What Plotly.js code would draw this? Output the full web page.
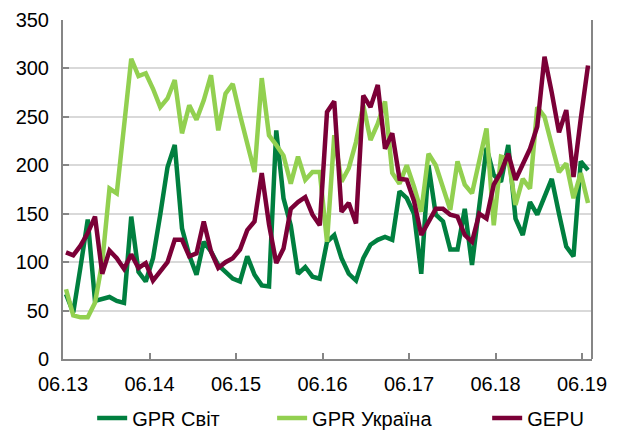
<!DOCTYPE html>
<html>
<head>
<meta charset="utf-8">
<script src="https://cdn.plot.ly/plotly-3.0.1.min.js"></script>
<style>html,body{margin:0;padding:0;background:#fff;}#chart{width:627px;height:434px;}</style>
</head>
<body>
<div id="chart"></div>
<script>
// Monthly observations, June 2013 .. June 2019
const gprWorld = [67,48,95,144,60,62,64,60,58,147,90,80,104,149,198,221,135,107,87,121,111,97,90,83,80,106,87,76,75,236,166,138,88,95,85,83,121,128,104,88,81,104,118,123,126,123,173,166,150,88,200,149,142,113,113,155,97,160,218,190,183,221,145,128,162,149,169,186,150,116,106,204,195];
const gprUkraine = [72,45,43,43,58,100,176,171,240,310,292,295,279,260,269,288,233,262,247,267,293,236,274,284,252,221,193,290,231,221,210,181,209,185,193,193,121,231,183,197,224,262,226,243,266,192,181,200,178,152,212,200,176,154,204,180,171,207,238,138,209,207,159,186,176,260,250,221,193,202,166,192,161];
const gepu = [110,107,117,130,147,88,112,104,93,108,94,99,81,90,100,123,123,106,109,142,111,94,100,104,113,133,142,192,139,99,114,155,162,167,149,138,255,266,152,161,140,272,260,283,217,233,186,185,163,128,142,155,155,149,147,128,121,150,145,180,193,212,185,200,217,240,312,275,234,257,188,248,303];
const tickLabels = ['06.13','06.14','06.15','06.16','06.17','06.18','06.19'];
const seriesNames = ['GPR Світ','GPR Україна','GEPU'];
const seriesColors = ['#007F3F','#92D050','#7B0037'];

const idx = gprWorld.map((_, i) => i);
const font = 'Liberation Sans, Arial, sans-serif';
const legendIds = ['legend', 'legend2', 'legend3'];
const legendX = [0.147, 0.434, 0.777];
const traces = [gprWorld, gprUkraine, gepu].map((ys, k) => ({
  x: idx, y: ys, type: 'scatter', mode: 'lines', name: seriesNames[k],
  legend: legendIds[k],
  line: {color: seriesColors[k], width: 4.5, shape: 'linear'}
}));

const tickStep = 11.93, tickStart = -0.41;
const layout = {
  width: 627, height: 434,
  margin: {l: 63, r: 35, t: 20, b: 75},
  paper_bgcolor: '#fff', plot_bgcolor: '#fff',
  font: {family: font, size: 20, color: '#000'},
  showlegend: true,
  xaxis: {
    range: [-0.414, 72.55], showgrid: false, zeroline: false, automargin: false,
    showline: true, linecolor: '#868686', linewidth: 2,
    tickmode: 'array', tickvals: tickLabels.map((_, k) => tickStart + tickStep * k), ticktext: tickLabels,
    ticks: 'inside', ticklen: 6, tickwidth: 2, tickcolor: '#868686', ticklabelstandoff: 6,
    tickfont: {family: font, size: 20, color: '#000'}
  },
  yaxis: {
    range: [0, 350], dtick: 50, tick0: 0, showgrid: true, gridcolor: '#D9D9D9', gridwidth: 2,
    zeroline: false, showline: true, linecolor: '#868686', linewidth: 2, automargin: false,
    ticks: 'inside', ticklen: 6, tickwidth: 2, tickcolor: '#868686', ticklabelstandoff: 8,
    tickfont: {family: font, size: 20, color: '#000'}
  },
  shapes: [{type: 'line', xref: 'paper', yref: 'paper', x0: 1, x1: 1, y0: 0, y1: 1,
            line: {color: '#868686', width: 2}}]
};
legendIds.forEach((id, k) => {
  layout[id] = {orientation: 'h', xref: 'container', yref: 'container',
                x: legendX[k], xanchor: 'left', y: 0.037, yanchor: 'middle',
                bgcolor: 'rgba(0,0,0,0)', font: {family: font, size: 20, color: '#000'}};
});
Plotly.newPlot('chart', traces, layout, {displayModeBar: false, staticPlot: true});
</script>
</body>
</html>
